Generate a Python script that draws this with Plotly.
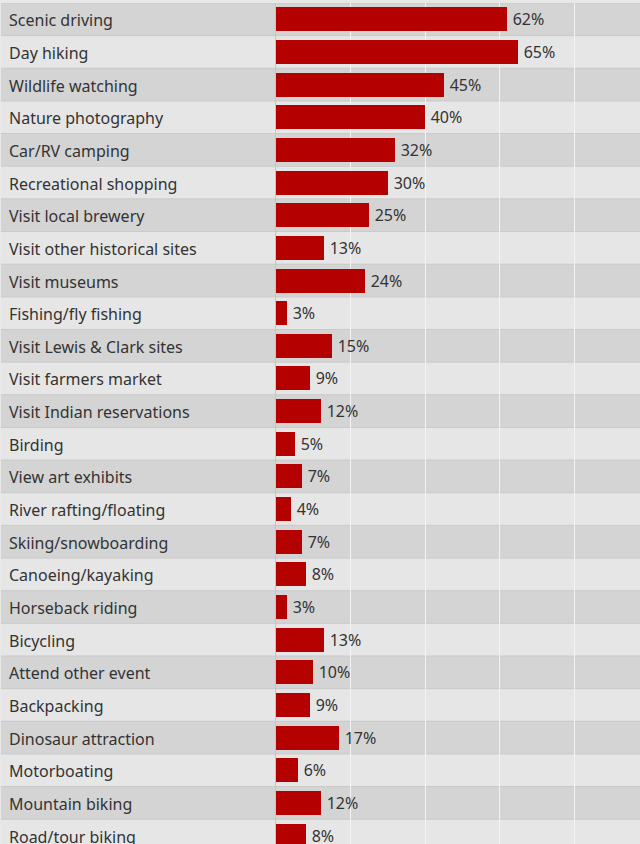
import plotly.graph_objects as go

activities = [
    "Scenic driving", "Day hiking", "Wildlife watching", "Nature photography",
    "Car/RV camping", "Recreational shopping", "Visit local brewery",
    "Visit other historical sites", "Visit museums", "Fishing/fly fishing",
    "Visit Lewis & Clark sites", "Visit farmers market", "Visit Indian reservations",
    "Birding", "View art exhibits", "River rafting/floating", "Skiing/snowboarding",
    "Canoeing/kayaking", "Horseback riding", "Bicycling", "Attend other event",
    "Backpacking", "Dinosaur attraction", "Motorboating", "Mountain biking",
    "Road/tour biking",
]
percent = [62, 65, 45, 40, 32, 30, 25, 13, 24, 3, 15, 9, 12, 5, 7, 4, 7, 8, 3,
           13, 10, 9, 17, 6, 12, 8]
grid_ticks = [0, 20, 40, 60, 80]

W, H = 640, 844
TOP = 3
ROW = 32.65
n = len(activities)
visible_rows = (H - TOP) / ROW

fig = go.Figure()
fig.add_trace(go.Bar(
    x=percent, y=activities, orientation="h",
    marker=dict(color="#b50000", line=dict(width=0)),
    width=0.735,
    text=[f"\u2009{v}%" for v in percent],
    textposition="outside",
    constraintext="none",
    textfont=dict(family="Noto Sans", size=16, color="#333333"),
    cliponaxis=False,
    hoverinfo="skip",
))

shapes = []
for i in range(n):
    shapes.append(dict(
        type="rect", xref="paper", yref="y", x0=1 / W, x1=1,
        y0=i - 0.5, y1=i + 0.5, layer="between",
        fillcolor="#d4d4d4" if i % 2 == 0 else "#e6e6e6",
        line=dict(width=0),
    ))
for i in range(n + 1):
    shapes.append(dict(
        type="line", xref="paper", yref="y", x0=1 / W, x1=1,
        y0=i - 0.5, y1=i - 0.5, layer="between",
        line=dict(color="#c9c9c9", width=1),
    ))

annotations = [
    dict(xref="paper", yref="y", x=7 / W, y=a, text=a, showarrow=False,
         xanchor="left", yanchor="middle", yshift=-1,
         font=dict(family="Noto Sans", size=16, color="#333333"))
    for a in activities
]

plot_left = 276
px_per_pct = 3.726
xmax = (W - plot_left) / px_per_pct

fig.update_layout(
    width=W, height=H,
    margin=dict(l=0, r=0, t=TOP, b=0, pad=0),
    paper_bgcolor="#e8e8e8", plot_bgcolor="#e6e6e6",
    showlegend=False,
    shapes=shapes, annotations=annotations,
    bargap=0,
    xaxis=dict(domain=[plot_left / W, 1], range=[0, xmax],
               tickvals=grid_ticks, showticklabels=False,
               showgrid=True, gridcolor="#f3f3f3", gridwidth=1,
               zeroline=False, showline=False, fixedrange=True),
    yaxis=dict(categoryorder="array", categoryarray=activities,
               range=[visible_rows - 0.5, -0.5], showticklabels=False,
               showgrid=False, zeroline=False,
               showline=True, linecolor="#c4c4c4", linewidth=1,
               fixedrange=True),
)

fig.write_html("out.html", config={"displayModeBar": False})
